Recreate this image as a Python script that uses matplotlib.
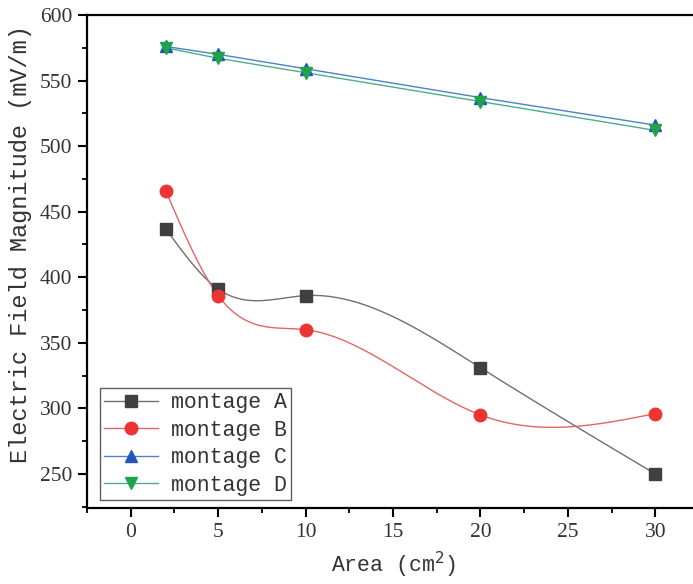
import matplotlib.pyplot as plt
import numpy as np
from matplotlib.ticker import MultipleLocator

# Electrode area (cm^2) and field magnitude (mV/m) for each montage
area = [2, 5, 10, 20, 30]
montage_a = [437, 391, 386, 331, 250]
montage_b = [466, 386, 360, 295, 296]
montage_c = [576, 570, 559, 537, 516]
montage_d = [575, 567, 556, 534, 512]


def natural_spline(x, y, n=300):
    # natural cubic spline through the points, used only for the connecting line
    x = np.asarray(x, dtype=float)
    y = np.asarray(y, dtype=float)
    k = len(x)
    h = np.diff(x)
    A = np.zeros((k, k))
    rhs = np.zeros(k)
    A[0, 0] = 1.0
    A[-1, -1] = 1.0
    for i in range(1, k - 1):
        A[i, i - 1] = h[i - 1]
        A[i, i] = 2 * (h[i - 1] + h[i])
        A[i, i + 1] = h[i]
        rhs[i] = 6 * ((y[i + 1] - y[i]) / h[i] - (y[i] - y[i - 1]) / h[i - 1])
    M = np.linalg.solve(A, rhs)
    xs = np.linspace(x[0], x[-1], n)
    idx = np.clip(np.searchsorted(x, xs) - 1, 0, k - 2)
    x0, x1 = x[idx], x[idx + 1]
    y0, y1 = y[idx], y[idx + 1]
    m0, m1 = M[idx], M[idx + 1]
    hh = x1 - x0
    t0 = x1 - xs
    t1 = xs - x0
    ys = (m0 * t0**3 + m1 * t1**3) / (6 * hh) \
        + (y0 / hh - m0 * hh / 6) * t0 + (y1 / hh - m1 * hh / 6) * t1
    return xs, ys


mono = 'Liberation Mono'
serif = 'Liberation Serif'

fig = plt.figure(figsize=(6.93, 5.84), dpi=100)
ax = fig.add_axes([87 / 693, 1 - 508 / 584, 612 / 693, 493 / 584])

series = [
    ('montage A', montage_a, 's', '#404040', '#707070', True),
    ('montage B', montage_b, 'o', '#EE3333', '#E06666', True),
    ('montage C', montage_c, '^', '#2156B8', '#4E82C4', False),
    ('montage D', montage_d, 'v', '#1FA34A', '#4BAE8E', False),
]

for label, vals, mk, mcol, lcol, smooth in series:
    if smooth:
        xs, ys = natural_spline(area, vals)
    else:
        xs, ys = area, vals
    ax.plot(xs, ys, color=lcol, lw=1.0, zorder=2)
    ax.plot(area, vals, ls='none', marker=mk, ms=9, color=mcol, zorder=3)
    # proxy handle for the legend
    ax.plot([], [], color=lcol, lw=1.0, marker=mk, ms=9, mfc=mcol, mec=mcol,
            label=label)

ax.set_xlim(-2.5, 32.5)
ax.set_ylim(224, 600)
ax.xaxis.set_major_locator(MultipleLocator(5))
ax.xaxis.set_minor_locator(MultipleLocator(2.5))
ax.yaxis.set_major_locator(MultipleLocator(50))
ax.yaxis.set_minor_locator(MultipleLocator(25))

for s in ax.spines.values():
    s.set_linewidth(1.6)
ax.tick_params(which='major', direction='out', length=6.5, width=1.5,
               labelsize=15.5, pad=4)
ax.tick_params(which='minor', direction='out', length=3.5, width=1.3)
for lab in ax.get_xticklabels() + ax.get_yticklabels():
    lab.set_fontfamily(serif)
    lab.set_color('#333333')

ax.set_xlabel('Area (cm$^2$)', fontfamily=mono, fontsize=15.5, labelpad=6,
              color='#333333')
ax.set_ylabel('Electric Field Magnitude (mV/m)', fontfamily=mono, fontsize=17,
              color='#333333')
ax.yaxis.set_label_coords(-0.09, 0.535)

leg = ax.legend(loc='lower left', bbox_to_anchor=(0.021, 0.016),
                prop={'family': mono, 'size': 15.5}, frameon=True,
                fancybox=False, edgecolor='#333333', handlelength=2.5,
                handletextpad=0.6, labelspacing=0.3, borderpad=0.2,
                borderaxespad=0)
leg.get_frame().set_linewidth(1.0)
for t in leg.get_texts():
    t.set_color('#333333')

fig.savefig('out.png', dpi=100)
